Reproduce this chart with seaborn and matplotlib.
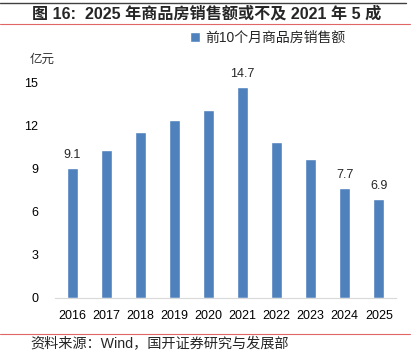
import matplotlib
matplotlib.use("Agg")
import matplotlib.pyplot as plt
import seaborn as sns
import pandas as pd

years = ['2016', '2017', '2018', '2019', '2020', '2021', '2022', '2023', '2024', '2025']
sales = [9.1, 10.3, 11.6, 12.4, 13.1, 14.7, 10.85, 9.7, 7.7, 6.9]
labelled = ['2016', '2021', '2024', '2025']
yticks = [0, 3, 6, 9, 12, 15]

sns.set_style("white")
plt.rcParams['font.family'] = ['Liberation Sans', 'Noto Sans CJK SC', 'DejaVu Sans']

df = pd.DataFrame({'year': years, 'sales': sales})

fig = plt.figure(figsize=(4.12, 3.56), dpi=100)
ax = fig.add_axes([0.1335, 0.163, 0.8275, 0.604])
sns.barplot(data=df, x='year', y='sales', color='#4F81BD', saturation=1,
            width=0.32, ax=ax, label='前10个月商品房销售额')

ax.set_xlim(-0.5, 9.5)
ax.set_ylim(0, 15)
ax.set_yticks(yticks)
ax.set_xlabel('')
ax.set_ylabel('')
ax.tick_params(axis='both', length=0, labelsize=9, colors='#000000')
ax.tick_params(axis='x', pad=9)
ax.tick_params(axis='y', pad=12)
for s in ['top', 'right', 'left']:
    ax.spines[s].set_visible(False)
ax.spines['bottom'].set_color('#D9D9D9')

labels = [f'{v:.1f}' if y in labelled else '' for y, v in zip(years, sales)]
ax.bar_label(ax.containers[0], labels=labels, padding=5, fontsize=9)

ax.legend(loc='upper left', bbox_to_anchor=(0.36, 1.3), frameon=False,
          handlelength=0.7, handleheight=0.7, handletextpad=0.4, fontsize=10)

fig.text(0.073, 0.823, '亿元', fontsize=9, color='#333333')

# title and rules
fig.text(0.078, 0.962, '图 16:  2025 年商品房销售额或不及 2021 年 5 成',
         fontsize=11.6, fontweight='bold', va='center')
fig.add_artist(plt.Line2D([0.0, 0.985], [0.992, 0.992], color='#404040', lw=1))
fig.add_artist(plt.Line2D([0.0, 0.995], [0.933, 0.933], color='#E06666', lw=0.8))
fig.add_artist(plt.Line2D([0.0, 0.995], [0.062, 0.062], color='#E06666', lw=0.8))
fig.text(0.073, 0.033, '资料来源：Wind，国开证券研究与发展部', fontsize=10.2, va='center')

fig.savefig('out.png', dpi=100)
